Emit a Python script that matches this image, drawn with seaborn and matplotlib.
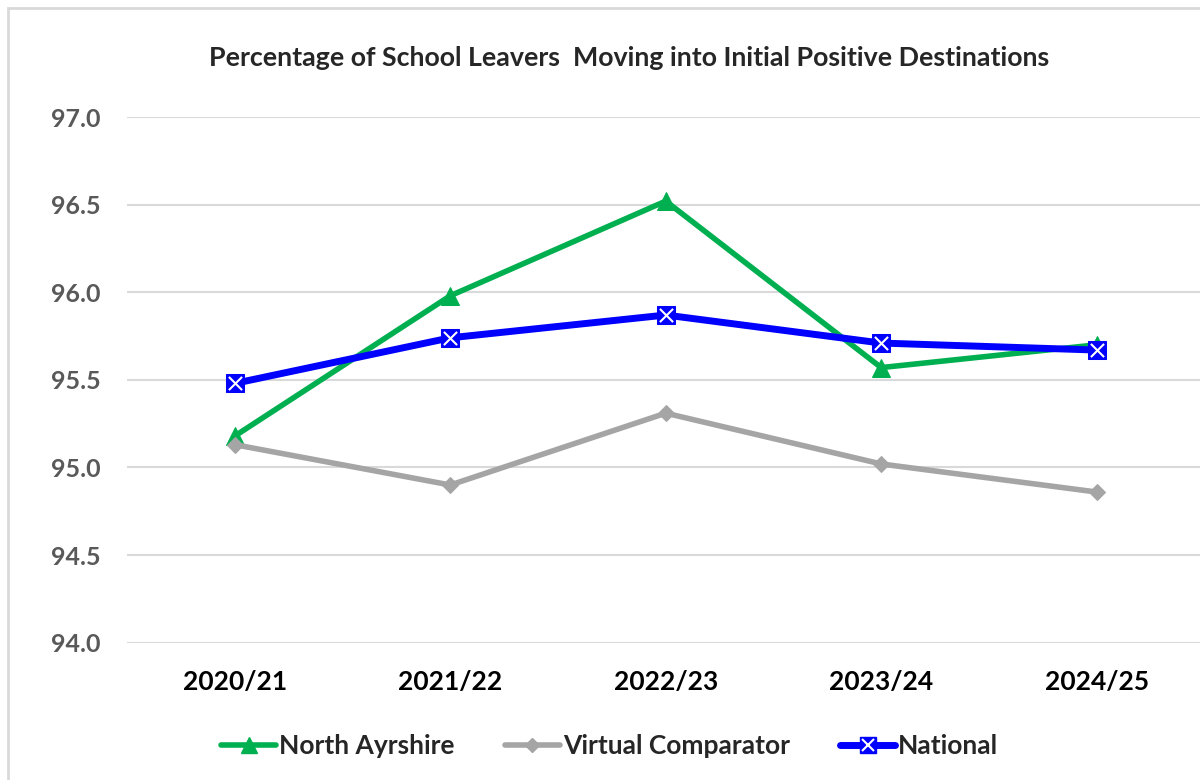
import matplotlib
matplotlib.use("Agg")
import matplotlib.pyplot as plt
import seaborn as sns
import pandas as pd
from matplotlib.lines import Line2D
from matplotlib.patches import Rectangle
from matplotlib.legend_handler import HandlerTuple

years = ["2020/21", "2021/22", "2022/23", "2023/24", "2024/25"]
north_ayrshire = [95.18, 95.98, 96.52, 95.57, 95.70]
virtual_comparator = [95.13, 94.90, 95.31, 95.02, 94.86]
national = [95.48, 95.74, 95.87, 95.71, 95.67]
series_names = ["North Ayrshire", "Virtual Comparator", "National"]
title = "Percentage of School Leavers  Moving into Initial Positive Destinations"
yticks = [94.0, 94.5, 95.0, 95.5, 96.0, 96.5, 97.0]

sns.set_theme(style="white")
plt.rcParams['font.family'] = ['Lato', 'DejaVu Sans']

df = pd.DataFrame({
    "x": list(range(len(years))) * 3,
    "value": north_ayrshire + virtual_comparator + national,
    "series": [series_names[0]] * 5 + [series_names[1]] * 5 + [series_names[2]] * 5,
})

colors = {"North Ayrshire": "#00B050", "Virtual Comparator": "#A5A5A5", "National": "#0000FF"}
markers = {"North Ayrshire": "^", "Virtual Comparator": "D", "National": "s"}
msize = {"North Ayrshire": 13, "Virtual Comparator": 8, "National": 13}
lw = {"North Ayrshire": 4, "Virtual Comparator": 4, "National": 5}

fig = plt.figure(figsize=(12, 7.8), dpi=100)
ax = fig.add_axes([0.106, 0.176, 0.894, 0.674])

for s in series_names:
    sub = df[df.series == s]
    sns.lineplot(data=sub, x="x", y="value", ax=ax, color=colors[s], lw=lw[s],
                 marker=markers[s], markersize=msize[s], markeredgecolor=colors[s],
                 legend=False, zorder=3 if s != "National" else 4)
sub = df[df.series == "National"]
sns.scatterplot(data=sub, x="x", y="value", ax=ax, marker="x", color="white",
                s=90, linewidth=1.5, zorder=5, legend=False)

ax.set_ylim(94.0, 97.0)
ax.set_xlim(-0.5, 4.48)
ax.set_yticks(yticks)
ax.set_yticklabels([f"{v:.1f}" for v in yticks], fontsize=18, fontweight="bold", color="#595959")
ax.set_xticks(range(len(years)))
ax.set_xticklabels(years, fontsize=19, fontweight="bold", color="black")
ax.tick_params(axis="y", length=0, pad=19)
ax.tick_params(axis="x", length=0, pad=20)
ax.set_xlabel("")
ax.set_ylabel("")
ax.grid(axis="y", color="#D9D9D9", lw=1.5)
ax.set_axisbelow(True)
for sp in ax.spines.values():
    sp.set_visible(False)

fig.text(0.524, 0.925, title, ha="center", va="center", fontsize=19.3, fontweight="bold")

h_na = Line2D([0], [0], color=colors["North Ayrshire"], lw=4, marker="^",
              markersize=11, markeredgecolor=colors["North Ayrshire"])
h_vc = Line2D([0], [0], color=colors["Virtual Comparator"], lw=4, marker="D",
              markersize=7, markeredgecolor=colors["Virtual Comparator"])
h_nat = Line2D([0], [0], color=colors["National"], lw=5, marker="s",
               markersize=11, markeredgecolor=colors["National"])
h_natx = Line2D([0], [0], color="none", lw=0, marker="x", markersize=8,
                markeredgecolor="white", markeredgewidth=1.5)
leg = fig.legend(handles=[h_na, h_vc, (h_nat, h_natx)], labels=series_names, loc="center",
                 bbox_to_anchor=(0.508, 0.043), ncol=3, frameon=False,
                 handlelength=2.1, handletextpad=0.1, columnspacing=1.9,
                 prop={"weight": "bold", "size": 19},
                 handler_map={tuple: HandlerTuple(ndivide=1, pad=0)})

fig.patches.append(Rectangle((0.007, -0.01), 1.1, 1.0, transform=fig.transFigure,
                             fill=False, edgecolor="#D9D9D9", lw=2))
fig.savefig("out.png", dpi=100)
